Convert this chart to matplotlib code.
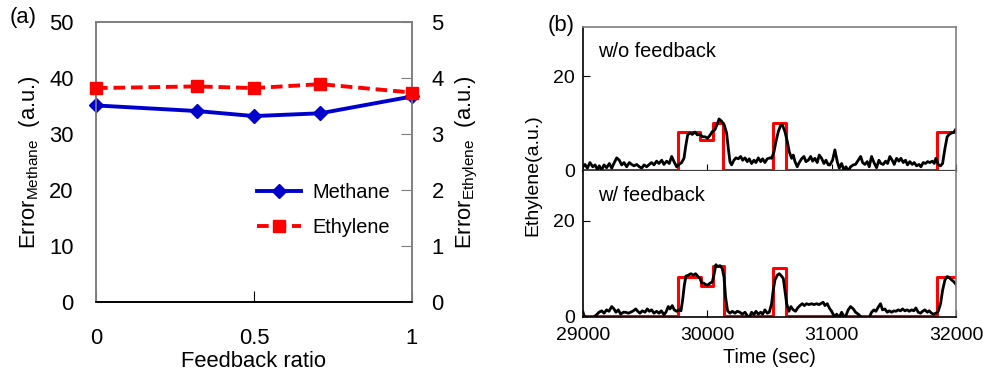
import matplotlib.pyplot as plt

plt.rcParams['font.family'] = ['Liberation Sans', 'DejaVu Sans']
plt.rcParams['mathtext.fontset'] = 'custom'
plt.rcParams['mathtext.rm'] = 'Liberation Sans'

# (a) error vs feedback ratio
ratio = [0, 0.32, 0.5, 0.71, 1]
err_methane = [35.1, 34.1, 33.2, 33.7, 36.7]
err_ethylene = [3.82, 3.85, 3.82, 3.89, 3.74]

# (b) setpoint steps (red) and measured ethylene (black)
sp_time_top = [29000, 29762, 29942, 30048, 30125, 30530, 30630, 31850, 32000]
sp_val_top = [0, 8.2, 6.5, 10.0, 0, 10.0, 0, 8.2, 8.2]
sp_time_bot = [29000, 29766, 29949, 30048, 30135, 30530, 30630, 31851, 32000]
sp_val_bot = [0, 8.2, 6.4, 10.5, 0, 10.0, 0, 8.2, 8.2]

t_top = [29000, 29016, 29035, 29056, 29078, 29097, 29115, 29131, 29150, 29169,
         29190, 29212, 29231, 29252, 29271, 29292, 29311, 29330, 29351, 29373,
         29391, 29410, 29432, 29453, 29472, 29491, 29512, 29533, 29552, 29571,
         29592, 29611, 29633, 29651, 29673, 29694, 29713, 29732, 29753, 29772,
         29793, 29812, 29828, 29842, 29860, 29879, 29901, 29919, 29941, 29962,
         29981, 30002, 30021, 30040, 30061, 30083, 30094, 30115, 30136, 30155,
         30169, 30182, 30195, 30214, 30230, 30249, 30268, 30284, 30303, 30321,
         30337, 30356, 30375, 30391, 30410, 30429, 30445, 30463, 30482, 30504,
         30517, 30536, 30552, 30571, 30589, 30605, 30624, 30643, 30659, 30678,
         30691, 30705, 30723, 30739, 30758, 30777, 30793, 30812, 30831, 30847,
         30865, 30884, 30900, 30919, 30938, 30954, 30973, 30986, 31007, 31026,
         31045, 31061, 31080, 31099, 31115, 31133, 31152, 31174, 31192, 31214,
         31233, 31249, 31267, 31286, 31302, 31321, 31340, 31361, 31380, 31396,
         31415, 31434, 31450, 31468, 31487, 31503, 31522, 31541, 31557, 31576,
         31594, 31610, 31629, 31648, 31664, 31683, 31702, 31718, 31736, 31755,
         31771, 31790, 31809, 31825, 31838, 31857, 31876, 31892, 31911, 31929,
         31945, 31964, 31983, 31996]
y_top = [0.7, 1.2, 0.4, 1.6, 0.7, 1.1, 0.1, 0.9, 0.0, 1.1,
         0.5, 1.4, 0.4, 1.6, 2.6, 2.1, 1.1, 1.6, 0.7, 1.6,
         1.2, 0.9, 1.2, 0.7, 0.4, 1.1, 0.7, 1.2, 1.6, 1.1,
         1.9, 1.4, 2.1, 1.2, 1.9, 1.4, 2.9, 1.8, 0.7, 1.2,
         1.6, 2.5, 5.4, 7.5, 7.9, 7.6, 8.1, 7.5, 7.6, 7.1,
         7.1, 6.8, 7.4, 8.2, 8.6, 10.0, 10.9, 10.4, 9.6, 7.9,
         4.6, 1.8, 1.1, 2.1, 2.6, 2.4, 2.9, 2.1, 2.6, 1.8,
         2.4, 1.4, 2.1, 1.6, 2.6, 1.8, 2.4, 1.6, 2.4, 2.6,
         2.5, 3.9, 6.1, 8.2, 9.5, 9.5, 8.2, 6.1, 3.9, 2.5,
         3.2, 1.8, 0.7, 1.6, 2.4, 2.9, 1.8, 2.1, 2.9, 1.9,
         2.5, 1.6, 3.2, 2.5, 1.4, 2.1, 1.1, 1.1, 2.1, 4.3,
         1.8, 0.4, 1.4, 0.0, 0.7, -0.2, 0.7, 1.1, 1.2, 2.1,
         2.9, 1.6, 1.2, 1.8, 0.7, 2.9, 1.6, 0.5, 2.1, 1.4,
         1.2, 1.9, 1.4, 2.9, 2.1, 1.2, 2.5, 1.9, 2.5, 1.6,
         2.1, 1.1, 1.8, 1.2, 1.6, 0.9, 1.2, 0.7, 1.6, 1.4,
         1.8, 1.6, 1.9, 1.4, 2.5, 1.2, 0.9, 1.4, 4.6, 7.1,
         7.6, 7.9, 8.1, 8.6]

t_bot = [29000, 29008, 29030, 29056, 29083, 29110, 29129, 29150, 29169, 29190,
         29209, 29231, 29249, 29265, 29284, 29303, 29324, 29343, 29365, 29383,
         29405, 29424, 29440, 29458, 29477, 29499, 29517, 29533, 29552, 29571,
         29592, 29611, 29630, 29651, 29667, 29686, 29700, 29718, 29734, 29753,
         29772, 29788, 29801, 29815, 29828, 29847, 29868, 29887, 29906, 29922,
         29941, 29954, 29973, 29981, 30002, 30021, 30040, 30056, 30069, 30083,
         30102, 30120, 30134, 30147, 30163, 30182, 30201, 30222, 30241, 30262,
         30281, 30303, 30321, 30337, 30356, 30375, 30391, 30410, 30429, 30445,
         30463, 30482, 30498, 30517, 30530, 30544, 30563, 30579, 30597, 30611,
         30624, 30638, 30656, 30672, 30691, 30710, 30726, 30745, 30764, 30780,
         30798, 30817, 30839, 30857, 30879, 30898, 30919, 30932, 30946, 30965,
         30981, 30999, 31018, 31026, 31040, 31061, 31080, 31099, 31115, 31133,
         31152, 31174, 31192, 31214, 31233, 31254, 31281, 31302, 31321, 31340,
         31356, 31375, 31393, 31409, 31428, 31447, 31463, 31482, 31501, 31517,
         31535, 31554, 31570, 31589, 31608, 31624, 31643, 31661, 31677, 31696,
         31715, 31731, 31750, 31769, 31785, 31803, 31822, 31838, 31857, 31876,
         31892, 31911, 31929, 31945, 31964, 31983, 31999, 32012]
y_bot = [0.8, 0.1, -0.4, -0.4, -0.3, 0.3, 0.8, 1.1, 0.6, 1.3,
         1.0, 2.0, 1.5, 0.8, 1.3, 0.4, 0.8, 0.8, 0.6, 0.8,
         1.1, 1.5, 1.0, 0.6, 1.1, 0.8, 1.5, 1.0, 1.3, 0.6,
         1.0, 0.6, 1.1, 0.3, 0.8, 2.0, 1.5, 2.2, 1.3, 1.0,
         1.3, 1.1, 3.3, 6.5, 8.4, 8.6, 8.9, 8.6, 8.9, 8.4,
         7.9, 7.0, 6.9, 6.7, 6.5, 6.9, 7.2, 9.0, 10.8, 10.4,
         10.6, 10.0, 8.2, 3.9, 1.1, 0.6, 1.0, 0.6, 1.0, 0.8,
         0.4, 0.8, 0.1, -0.3, 0.8, 0.3, 1.0, 0.4, 0.8, 0.4,
         1.3, 0.6, 0.8, 2.6, 5.4, 7.6, 8.6, 8.9, 8.4, 7.9,
         5.4, 2.6, 1.0, 2.0, 1.3, 1.0, 1.7, 2.2, 2.6, 2.2,
         2.6, 2.4, 2.6, 2.4, 2.6, 2.4, 2.7, 2.9, 2.2, 2.6,
         1.7, 1.0, 0.1, -0.4, 0.4, -0.3, 0.8, -0.1, 0.1, 1.3,
         2.0, 1.5, 0.8, 0.4, -0.1, -0.6, -0.6, -0.3, 0.8, 1.3,
         1.0, 1.9, 2.6, 1.3, 1.5, 0.8, 1.1, 0.8, 1.1, 1.0,
         1.3, 1.1, 1.5, 1.1, 1.3, 1.0, 1.3, 1.1, 1.7, 0.8,
         0.6, 1.0, 1.3, 0.8, 1.1, 0.6, 0.4, 0.6, 1.0, 2.6,
         5.4, 7.6, 8.3, 8.1, 7.6, 7.2, 6.7, 6.1]

W, H = 983, 380
fig = plt.figure(figsize=(W / 100, H / 100), dpi=100)

def frac(x0, y0, x1, y1):
    return [x0 / W, 1 - y1 / H, (x1 - x0) / W, (y1 - y0) / H]

gray = '#7f7f7f'

# ---- panel (a)
ax = fig.add_axes(frac(96, 22, 412, 302))
ax2 = ax.twinx()
ax.plot(ratio, err_methane, '-D', color='#0000CC', lw=2.8, ms=7, clip_on=False,
        label='Methane', zorder=3)
ax2.plot(ratio, err_ethylene, '--s', color='#FF0000', lw=2.8, ms=9, clip_on=False,
         label='Ethylene', dashes=(3, 1.5), zorder=3)
ax.set_xlim(0, 1)
ax.set_ylim(0, 50)
ax2.set_ylim(0, 5)
ax.set_xticks([0, 0.5, 1])
ax.set_xticklabels(['0', '0.5', '1'])
ax.set_yticks(range(0, 51, 10))
ax2.set_yticks(range(0, 6))
ax.tick_params(axis='x', direction='in', length=8, pad=19, labelsize=15.8)
ax.tick_params(axis='y', length=0, pad=16, labelsize=15.8)
ax2.tick_params(axis='y', direction='in', length=8, pad=14, labelsize=15.8, color=gray)
for a in (ax, ax2):
    for s in ('left', 'right', 'top'):
        a.spines[s].set_color(gray)
        a.spines[s].set_linewidth(1.2)
    a.spines['bottom'].set_linewidth(1.2)
ax.set_xlabel('Feedback ratio', fontsize=15.8, labelpad=1)
ax.set_ylabel(r'Error$_{\rm Methane}$  (a.u.)', fontsize=15.8, labelpad=5)
ax2.set_ylabel(r'Error$_{\rm Ethylene}$  (a.u.)', fontsize=15.8, labelpad=7)
h1, l1 = ax.get_legend_handles_labels()
h2, l2 = ax2.get_legend_handles_labels()
ax2.legend(h1 + h2, l1 + l2, loc='center left', bbox_to_anchor=(0.51, 0.33),
           frameon=False, fontsize=14.4, handlelength=2.2, handletextpad=0.55,
           labelspacing=0.8, borderpad=0, borderaxespad=0)
fig.text(10 / W, 1 - 18 / H, '(a)', fontsize=15.8, va='center', ha='left')

# ---- panel (b)
axt = fig.add_axes(frac(583, 27, 956, 171))
axb = fig.add_axes(frac(583, 171, 956, 317))
panels = [(axt, sp_time_top, sp_val_top, t_top, y_top, 'w/o feedback'),
          (axb, sp_time_bot, sp_val_bot, t_bot, y_bot, 'w/ feedback')]
for a, st, sv, t, y, name in panels:
    a.step(st, sv, where='post', color='#FF0000', lw=2.2)
    a.plot(t, y, color='black', lw=2.0)
    a.set_xlim(29000, 32000)
    a.set_ylim(-0.2, 30.5)
    a.set_yticks([0, 20])
    a.set_xticks([29000, 30000, 31000, 32000])
    a.tick_params(axis='both', direction='in', length=5, labelsize=14)
    a.tick_params(axis='y', pad=6)
    a.tick_params(axis='x', pad=7)
    a.text(0.04, 0.83, name, transform=a.transAxes, fontsize=14.4, va='center')
    for s in ('right', 'top'):
        a.spines[s].set_color(gray)
        a.spines[s].set_linewidth(1.2)
    a.spines['left'].set_linewidth(1.2)
axt.tick_params(axis='x', labelbottom=False)
axt.spines['bottom'].set_color('#404040')
axt.spines['bottom'].set_linewidth(1.6)
axb.spines['top'].set_visible(False)
axb.spines['bottom'].set_linewidth(1.2)
axb.set_xlabel('Time (sec)', fontsize=14.2, labelpad=3)
fig.text(533 / W, 1 - 175 / H, 'Ethylene(a.u.)', fontsize=14, rotation=90,
         va='center', ha='center')
fig.text(548 / W, 1 - 25 / H, '(b)', fontsize=15.8, va='center', ha='left')

fig.savefig('out.png', dpi=100)
